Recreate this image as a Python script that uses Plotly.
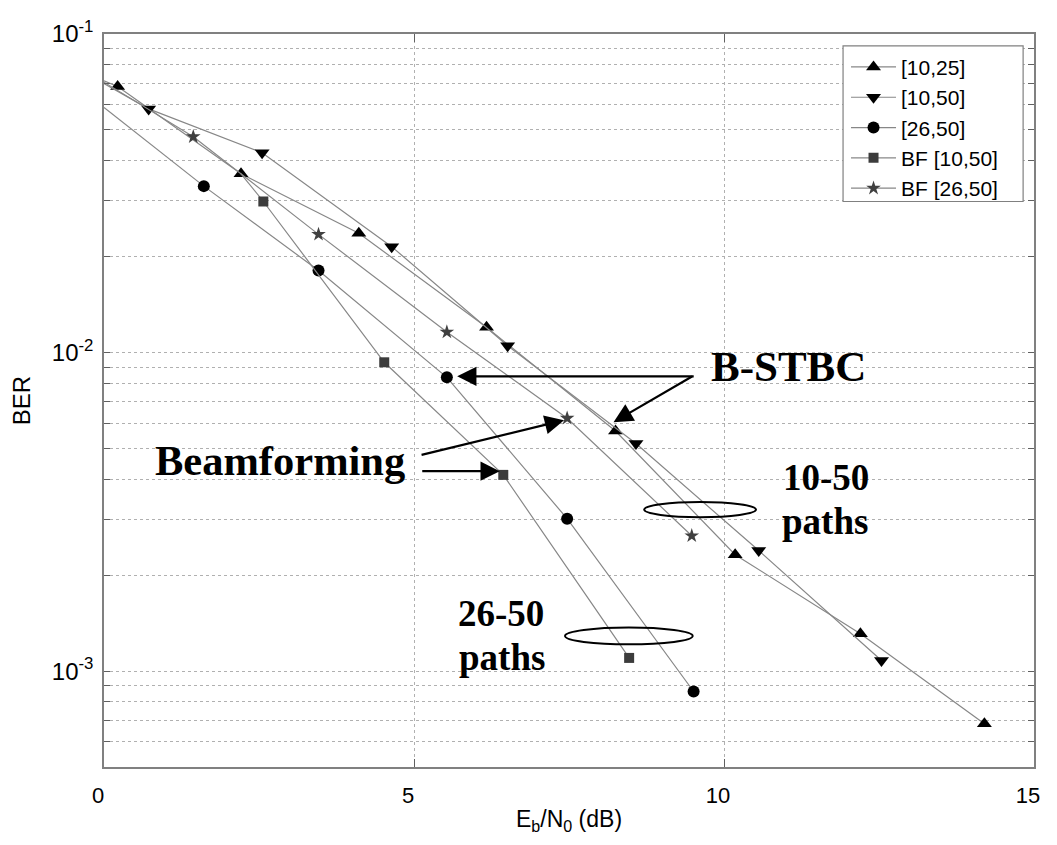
import plotly.graph_objects as go

# ---------------- data ----------------
series_names = ["[10,25]", "[10,50]", "[26,50]", "BF [10,50]", "BF [26,50]"]

ebn0_10_25 = [0.22, 2.21, 4.11, 6.17, 8.25, 10.18, 12.20, 14.20]
ber_10_25 = [0.0684, 0.0364, 0.0237, 0.0120, 0.00567, 0.00232, 0.00131, 0.000684]
start_10_25 = (0.0, 0.0713)

ebn0_10_50 = [0.72, 2.55, 4.64, 6.51, 8.58, 10.56, 12.54]
ber_10_50 = [0.0582, 0.0424, 0.0215, 0.0105, 0.00518, 0.00239, 0.00108]
start_10_50 = (0.0, 0.0699)

ebn0_26_50 = [1.61, 3.46, 5.53, 7.47, 9.51]
ber_26_50 = [0.0333, 0.0181, 0.00836, 0.00301, 0.000863]
start_26_50 = (0.0, 0.0588)

ebn0_bf_10_50 = [2.57, 4.52, 6.44, 8.47]
ber_bf_10_50 = [0.0298, 0.00932, 0.00413, 0.00110]
start_bf_10_50 = (2.2, 0.0366)

ebn0_bf_26_50 = [1.44, 3.46, 5.53, 7.47, 9.48]
ber_bf_26_50 = [0.0476, 0.0235, 0.0116, 0.00622, 0.00266]
start_bf_26_50 = (0.0, 0.0706)

x_tick_vals = [0, 5, 10, 15]
x_tick_text = ["0", "5", "10", "15"]
y_tick_vals = [6e-4, 7e-4, 8e-4, 9e-4,
               1e-3, 2e-3, 3e-3, 4e-3, 5e-3, 6e-3, 7e-3, 8e-3, 9e-3,
               1e-2, 2e-2, 3e-2, 4e-2, 5e-2, 6e-2, 7e-2, 8e-2, 9e-2, 1e-1]
y_tick_text = [" ", " ", " ", " ",
               "10<sup>-3</sup>", " ", " ", " ", " ", " ", " ", " ", " ",
               "10<sup>-2</sup>", " ", " ", " ", " ", " ", " ", " ", " ", "10<sup>-1</sup>"]

# ---------------- styling ----------------
# page body has an 8px margin: figure occupies (8,8)-(1049,837) of the 1057x845 window
OFF = 8
W, H = 1057 - 2 * OFF, 845 - 2 * OFF
# plot area in window pixels: x 100..1040, y 29..773
PL, PR, PT, PB = 100, 1040, 29, 773
ML, MR, MT, MB = PL - OFF, (OFF + W) - PR, PT - OFF, (OFF + H) - PB
PW, PH = PR - PL, PB - PT
LINE_COLOR = "#878787"
TICK_FONT = "Liberation Sans, Arial, sans-serif"
SERIF = "Liberation Serif, Times New Roman, serif"

styles = [
    dict(symbol="triangle-up", size=13, color="#000000"),
    dict(symbol="triangle-down", size=13, color="#000000"),
    dict(symbol="circle", size=12, color="#000000"),
    dict(symbol="square", size=10, color="#3c3c3c"),
    dict(symbol="star", size=11, color="#404040"),
]
series = [
    (ebn0_10_25, ber_10_25, start_10_25),
    (ebn0_10_50, ber_10_50, start_10_50),
    (ebn0_26_50, ber_26_50, start_26_50),
    (ebn0_bf_10_50, ber_bf_10_50, start_bf_10_50),
    (ebn0_bf_26_50, ber_bf_26_50, start_bf_26_50),
]

fig = go.Figure()
for name, (xs, ys, st), sty in zip(series_names, series, styles):
    # lead-in line segment (no marker) from start value to first marker
    fig.add_trace(go.Scatter(
        x=[st[0], xs[0]], y=[st[1], ys[0]], mode="lines",
        line=dict(color=LINE_COLOR, width=1.2), showlegend=False, hoverinfo="skip"))
    fig.add_trace(go.Scatter(
        x=xs, y=ys, mode="lines+markers", name=name,
        line=dict(color=LINE_COLOR, width=1.2),
        marker=dict(symbol=sty["symbol"], size=sty["size"], color=sty["color"],
                    line=dict(width=0))))


def pxx(p):
    return (p - PL) / PW


def pxy(p):
    return (PB - p) / PH


annotations = []
# text labels (window pixel positions of left edge / vertical centre)
texts = [
    ("B-STBC", 712, 366, 43),
    ("Beamforming", 150, 462, 42.5),
    ("10-50", 784, 479, 37),
    ("paths", 783, 524, 37),
    ("26-50", 456, 617, 37),
    ("paths", 457, 662, 37),
]
for t, x0, y0, fs in texts:
    annotations.append(dict(
        text=t, x=pxx(x0), y=pxy(y0), xref="paper", yref="paper",
        xanchor="left", yanchor="middle", showarrow=False,
        font=dict(family=SERIF, size=fs, color="#000000", weight="bold")))

# arrows: (tip_x, tip_y, tail_x, tail_y) in window pixels
arrows = [
    (457, 376.5, 695, 376.5),
    (615, 423, 695, 376.5),
    (565, 421, 421, 456),
    (500, 472.7, 421, 472.7),
]
for tx, ty, sx, sy in arrows:
    annotations.append(dict(
        text="", x=pxx(tx), y=pxy(ty), xref="paper", yref="paper",
        ax=sx - tx, ay=sy - ty, axref="pixel", ayref="pixel",
        showarrow=True, arrowhead=2, arrowsize=1.75, arrowwidth=2.2,
        arrowcolor="#000000", standoff=0, startstandoff=0))

shapes = []
# ellipses (window pixel boxes)
for x0, y0, x1, y1 in [(646, 504, 759, 519.5), (566, 631.5, 695, 648.5)]:
    shapes.append(dict(type="circle", xref="paper", yref="paper",
                       x0=pxx(x0), x1=pxx(x1), y0=pxy(y1), y1=pxy(y0),
                       line=dict(color="#000000", width=2)))
# legend box
LEG_L, LEG_R, LEG_T, LEG_B = 847, 1029, 41, 199
shapes.append(dict(type="rect", xref="paper", yref="paper", layer="above",
                   x0=pxx(LEG_L), x1=pxx(LEG_R), y0=pxy(LEG_B), y1=pxy(LEG_T),
                   fillcolor="white", line=dict(color="#808080", width=1.2)))

fig.update_layout(
    width=W, height=H,
    margin=dict(l=ML, r=MR, t=MT, b=MB, pad=0),
    paper_bgcolor="white", plot_bgcolor="white",
    annotations=annotations, shapes=shapes,
    legend=dict(x=pxx(LEG_L + 3), y=pxy(LEG_T + 1), xanchor="left", yanchor="top",
                bgcolor="rgba(0,0,0,0)", borderwidth=0,
                font=dict(family=TICK_FONT, size=21, color="#000000"),
                itemwidth=45, tracegroupgap=0),
    xaxis=dict(
        range=[0, 15], tickvals=x_tick_vals, ticktext=x_tick_text,
        ticks="inside", ticklen=8, tickcolor="#606060",
        showline=True, linecolor="#808080", linewidth=1.5, mirror="ticks",
        showgrid=True, gridcolor="#b0b0b0", griddash="dot", gridwidth=1,
        zeroline=False, ticklabelstandoff=8, ticklabeloverflow="allow",
        ticklabelshift=-6,
        tickfont=dict(family=TICK_FONT, size=22, color="#000000"),
        title=dict(text="E<sub>b</sub>/N<sub>0</sub> (dB)", standoff=4,
                   font=dict(family=TICK_FONT, size=23, color="#000000")),
    ),
    yaxis=dict(
        type="log", range=[-3.30103, -1], tickvals=y_tick_vals, ticktext=y_tick_text,
        ticks="inside", ticklen=6, tickcolor="#606060",
        showline=True, linecolor="#808080", linewidth=1.5, mirror="ticks",
        showgrid=True, gridcolor="#b0b0b0", griddash="dot", gridwidth=1,
        zeroline=False, ticklabelstandoff=4,
        tickfont=dict(family=TICK_FONT, size=24, color="#000000"),
        title=dict(text="BER", standoff=18,
                   font=dict(family=TICK_FONT, size=24, color="#000000")),
    ),
)

fig.write_html("out.html", config={"displayModeBar": False})
